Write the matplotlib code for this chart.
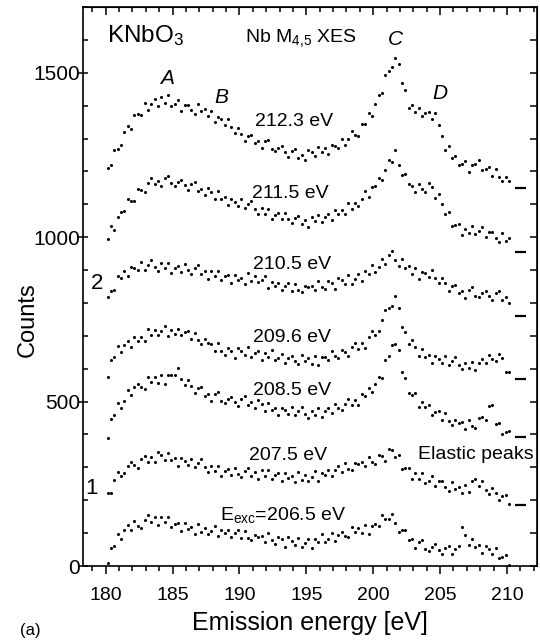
import numpy as np
import matplotlib
matplotlib.use("Agg")
import matplotlib.pyplot as plt
from matplotlib.ticker import MultipleLocator

plt.rcParams['font.family'] = ['Liberation Sans', 'DejaVu Sans']
plt.rcParams['mathtext.fontset'] = 'custom'
plt.rcParams['mathtext.rm'] = 'Liberation Sans'
plt.rcParams['mathtext.it'] = 'Liberation Sans:italic'
plt.rcParams['mathtext.default'] = 'rm'

# emission energy grid (eV), 0.25 eV steps
energy = np.linspace(180.15, 210.15, 121)

# counts, one array per excitation energy
s212_3 = [1211, 1218, 1266, 1269, 1281, 1321, 1337, 1330, 1372, 1376, 1372, 1407,
          1386, 1406, 1420, 1398, 1426, 1408, 1433, 1400, 1404, 1418, 1385, 1401,
          1403, 1386, 1376, 1404, 1383, 1390, 1367, 1384, 1350, 1366, 1358, 1341,
          1360, 1334, 1318, 1332, 1314, 1292, 1308, 1311, 1285, 1293, 1271, 1292,
          1297, 1269, 1261, 1272, 1277, 1259, 1244, 1263, 1269, 1242, 1251, 1234,
          1264, 1259, 1246, 1275, 1258, 1271, 1252, 1279, 1276, 1271, 1298, 1279,
          1300, 1322, 1310, 1309, 1343, 1343, 1378, 1369, 1404, 1433, 1439, 1493,
          1506, 1518, 1546, 1526, 1470, 1448, 1392, 1402, 1381, 1394, 1367, 1377,
          1382, 1358, 1377, 1342, 1309, 1264, 1278, 1242, 1247, 1221, 1224, 1233,
          1198, 1221, 1222, 1236, 1203, 1208, 1212, 1187, 1206, 1182, 1170, 1182, 1170]
s211_5 = [995, 1034, 1022, 1062, 1077, 1079, 1115, 1109, 1110, 1145, 1143, 1137,
          1166, 1180, 1162, 1171, 1156, 1179, 1186, 1164, 1156, 1169, 1174, 1158,
          1143, 1163, 1168, 1141, 1148, 1127, 1150, 1137, 1116, 1139, 1116, 1122,
          1097, 1117, 1108, 1096, 1116, 1090, 1101, 1111, 1085, 1070, 1088, 1070,
          1085, 1054, 1067, 1074, 1054, 1075, 1055, 1042, 1057, 1065, 1040, 1051,
          1031, 1060, 1048, 1067, 1046, 1062, 1072, 1052, 1083, 1072, 1083, 1069,
          1105, 1085, 1105, 1095, 1115, 1141, 1122, 1154, 1156, 1180, 1174, 1205,
          1234, 1230, 1266, 1221, 1190, 1193, 1162, 1156, 1136, 1161, 1145, 1138,
          1164, 1152, 1120, 1130, 1102, 1072, 1077, 1034, 1038, 1040, 1006, 1026,
          1012, 1035, 1009, 1018, 1032, 1001, 1016, 1017, 997, 986, 1012, 989, 996]
s210_5 = [818, 835, 840, 883, 876, 896, 881, 909, 906, 899, 923, 900,
          915, 930, 909, 898, 920, 905, 921, 891, 905, 913, 894, 917,
          899, 888, 905, 914, 888, 896, 872, 898, 881, 897, 871, 881,
          885, 860, 886, 870, 877, 859, 891, 867, 882, 864, 871, 881,
          845, 863, 852, 862, 838, 851, 860, 836, 859, 838, 832, 851,
          847, 853, 839, 866, 849, 841, 866, 861, 843, 875, 869, 859,
          884, 859, 874, 888, 867, 896, 889, 916, 895, 909, 934, 917,
          947, 957, 932, 912, 933, 907, 912, 888, 906, 874, 895, 892,
          879, 900, 876, 862, 877, 860, 837, 852, 855, 829, 837, 816,
          839, 847, 822, 817, 830, 836, 821, 808, 829, 836, 810, 818, 799]
s209_6 = [574, 625, 636, 669, 652, 672, 684, 665, 696, 685, 696, 684,
          721, 701, 719, 703, 714, 730, 698, 718, 706, 722, 702, 711,
          716, 690, 710, 686, 676, 690, 678, 676, 655, 677, 655, 642,
          663, 655, 634, 663, 655, 643, 665, 637, 647, 655, 627, 649,
          636, 656, 627, 632, 646, 616, 633, 638, 622, 613, 642, 622,
          632, 615, 639, 611, 635, 635, 626, 653, 638, 633, 658, 651,
          640, 666, 678, 660, 677, 664, 697, 716, 704, 716, 749, 778,
          784, 792, 820, 786, 726, 712, 674, 686, 665, 640, 661, 637,
          642, 618, 639, 630, 618, 638, 612, 624, 636, 612, 598, 617,
          601, 620, 596, 616, 631, 617, 643, 628, 622, 646, 634, 590, 589]
s208_5 = [389, 446, 458, 496, 479, 503, 536, 521, 545, 555, 543, 539,
          574, 560, 574, 558, 582, 555, 580, 582, 581, 601, 568, 550,
          565, 548, 526, 541, 543, 516, 523, 501, 524, 530, 503, 496,
          508, 515, 500, 487, 508, 516, 491, 500, 481, 504, 492, 472,
          495, 474, 482, 459, 481, 473, 462, 483, 458, 471, 484, 462,
          450, 472, 459, 479, 453, 471, 482, 466, 493, 479, 473, 494,
          508, 489, 505, 489, 523, 516, 542, 528, 553, 574, 573, 627,
          639, 672, 674, 658, 590, 571, 525, 520, 525, 485, 500, 484,
          489, 460, 468, 470, 444, 464, 440, 430, 445, 436, 437, 418,
          443, 427, 420, 449, 452, 444, 487, 489, 432, 435, 402, 408, 412]
s207_5 = [221, 222, 263, 286, 274, 282, 303, 317, 308, 299, 324, 335,
          315, 330, 317, 347, 339, 322, 345, 322, 328, 305, 327, 318,
          306, 326, 300, 312, 324, 300, 286, 305, 289, 305, 275, 289,
          296, 276, 299, 281, 270, 288, 298, 274, 285, 264, 291, 275,
          291, 266, 277, 282, 258, 283, 267, 273, 254, 285, 261, 277,
          260, 271, 288, 259, 283, 278, 293, 274, 291, 304, 285, 312,
          295, 291, 312, 309, 316, 303, 333, 317, 310, 337, 335, 320,
          356, 352, 332, 337, 296, 297, 299, 265, 282, 264, 282, 253,
          258, 273, 242, 257, 259, 240, 228, 255, 233, 241, 221, 246,
          226, 260, 264, 242, 258, 232, 218, 236, 222, 200, 214, 216, 188]
s206_5 = [8, 56, 62, 97, 82, 108, 124, 110, 137, 123, 117, 139,
          154, 135, 148, 125, 150, 133, 148, 120, 129, 132, 106, 130,
          113, 118, 98, 128, 103, 117, 98, 107, 121, 90, 111, 101,
          111, 87, 100, 109, 85, 107, 85, 78, 95, 88, 91, 74,
          99, 79, 67, 89, 81, 59, 87, 77, 64, 86, 58, 70,
          81, 56, 82, 72, 96, 72, 82, 101, 75, 95, 104, 92,
          87, 120, 104, 117, 101, 125, 97, 123, 127, 123, 155, 144,
          143, 158, 132, 103, 111, 110, 80, 83, 56, 74, 79, 53,
          47, 59, 66, 50, 36, 55, 61, 35, 52, 60, 118, 93,
          63, 83, 59, 64, 40, 61, 52, 37, 54, 23, 28, 32, 2]

spectra = [s212_3, s211_5, s210_5, s209_6, s208_5, s207_5, s206_5]
exc_labels = ['212.3 eV', '211.5 eV', '210.5 eV', '209.6 eV', '208.5 eV',
              '207.5 eV', r'E$_{exc}$=206.5 eV']
# zero-level markers at the right end of each spectrum
baselines = [1150, 955, 760, 569, 392, 186]

fig = plt.figure(figsize=(5.4, 6.43), dpi=100)
ax = fig.add_axes([83 / 540, 77 / 643, 454 / 540, 559 / 643])

for s in spectra:
    ax.plot(energy, s, 'o', ms=2.2, mew=0, color='k')
ax.hlines(baselines, 210.6, 211.4, color='k', lw=1.6)

ax.set_xlim(178.3, 212.25)
ax.set_ylim(0, 1700)
ax.set_xticks(range(180, 211, 5))
ax.set_yticks([0, 500, 1000, 1500])
ax.xaxis.set_minor_locator(MultipleLocator(1))
ax.yaxis.set_minor_locator(MultipleLocator(100))
ax.tick_params(axis='x', which='major', direction='out', length=6, width=1.1,
               labelsize=14, pad=9)
ax.tick_params(axis='x', which='minor', direction='out', length=3.5, width=1.1)
ax.tick_params(axis='y', which='major', direction='inout', length=7, width=1.1,
               labelsize=15, pad=-1.5)
ax.tick_params(axis='y', which='minor', direction='in', length=3.5, width=1.1)
for sp in ax.spines.values():
    sp.set_linewidth(1.2)

top = ax.secondary_xaxis('top')
top.set_xticks(range(180, 211, 5))
top.xaxis.set_minor_locator(MultipleLocator(1))
top.tick_params(which='major', direction='in', length=6, width=1.1, labeltop=False)
top.tick_params(which='minor', direction='in', length=3.5, width=1.1)
right = ax.secondary_yaxis('right')
right.set_yticks([0, 500, 1000, 1500])
right.yaxis.set_minor_locator(MultipleLocator(100))
right.tick_params(which='major', direction='in', length=5, width=1.1, labelright=False)
right.tick_params(which='minor', direction='in', length=5, width=1.1)

# labels for each spectrum
lab_x = [191.17, 190.95, 191.02, 191.02, 191.02, 190.72, 188.56]
lab_y = [1351, 1132, 916, 694, 535, 335, 155]
for t, lx, ly in zip(exc_labels, lab_x, lab_y):
    ax.text(lx, ly, t, fontsize=14, ha='left', va='center')

ax.text(180.1, 1594, r'KNbO$_3$', fontsize=17.5, ha='left', va='baseline')
ax.text(190.44, 1594, r'Nb M$_{4{,}5}$ XES', fontsize=14, ha='left', va='baseline')
for t, px, py in [('A', 184.56, 1482), ('B', 188.67, 1424),
                  ('C', 201.64, 1600), ('D', 205.0, 1436)]:
    ax.text(px, py, t, fontsize=15, style='italic', ha='center', va='center')
ax.text(203.36, 338, 'Elastic peaks', fontsize=14, ha='left', va='center')
ax.text(179.36, 858, '2', fontsize=16, ha='center', va='center')
ax.text(178.92, 237, '1', fontsize=16, ha='center', va='center')

fig.text(310 / 540, 1 - 623 / 643, 'Emission energy [eV]', fontsize=18,
         ha='center', va='center')
fig.text(28 / 540, 1 - 320 / 643, 'Counts', fontsize=17, rotation=90,
         ha='center', va='center')
fig.text(30 / 540, 1 - 630 / 643, '(a)', fontsize=12, ha='center', va='center')

fig.savefig('out.png', dpi=100)
